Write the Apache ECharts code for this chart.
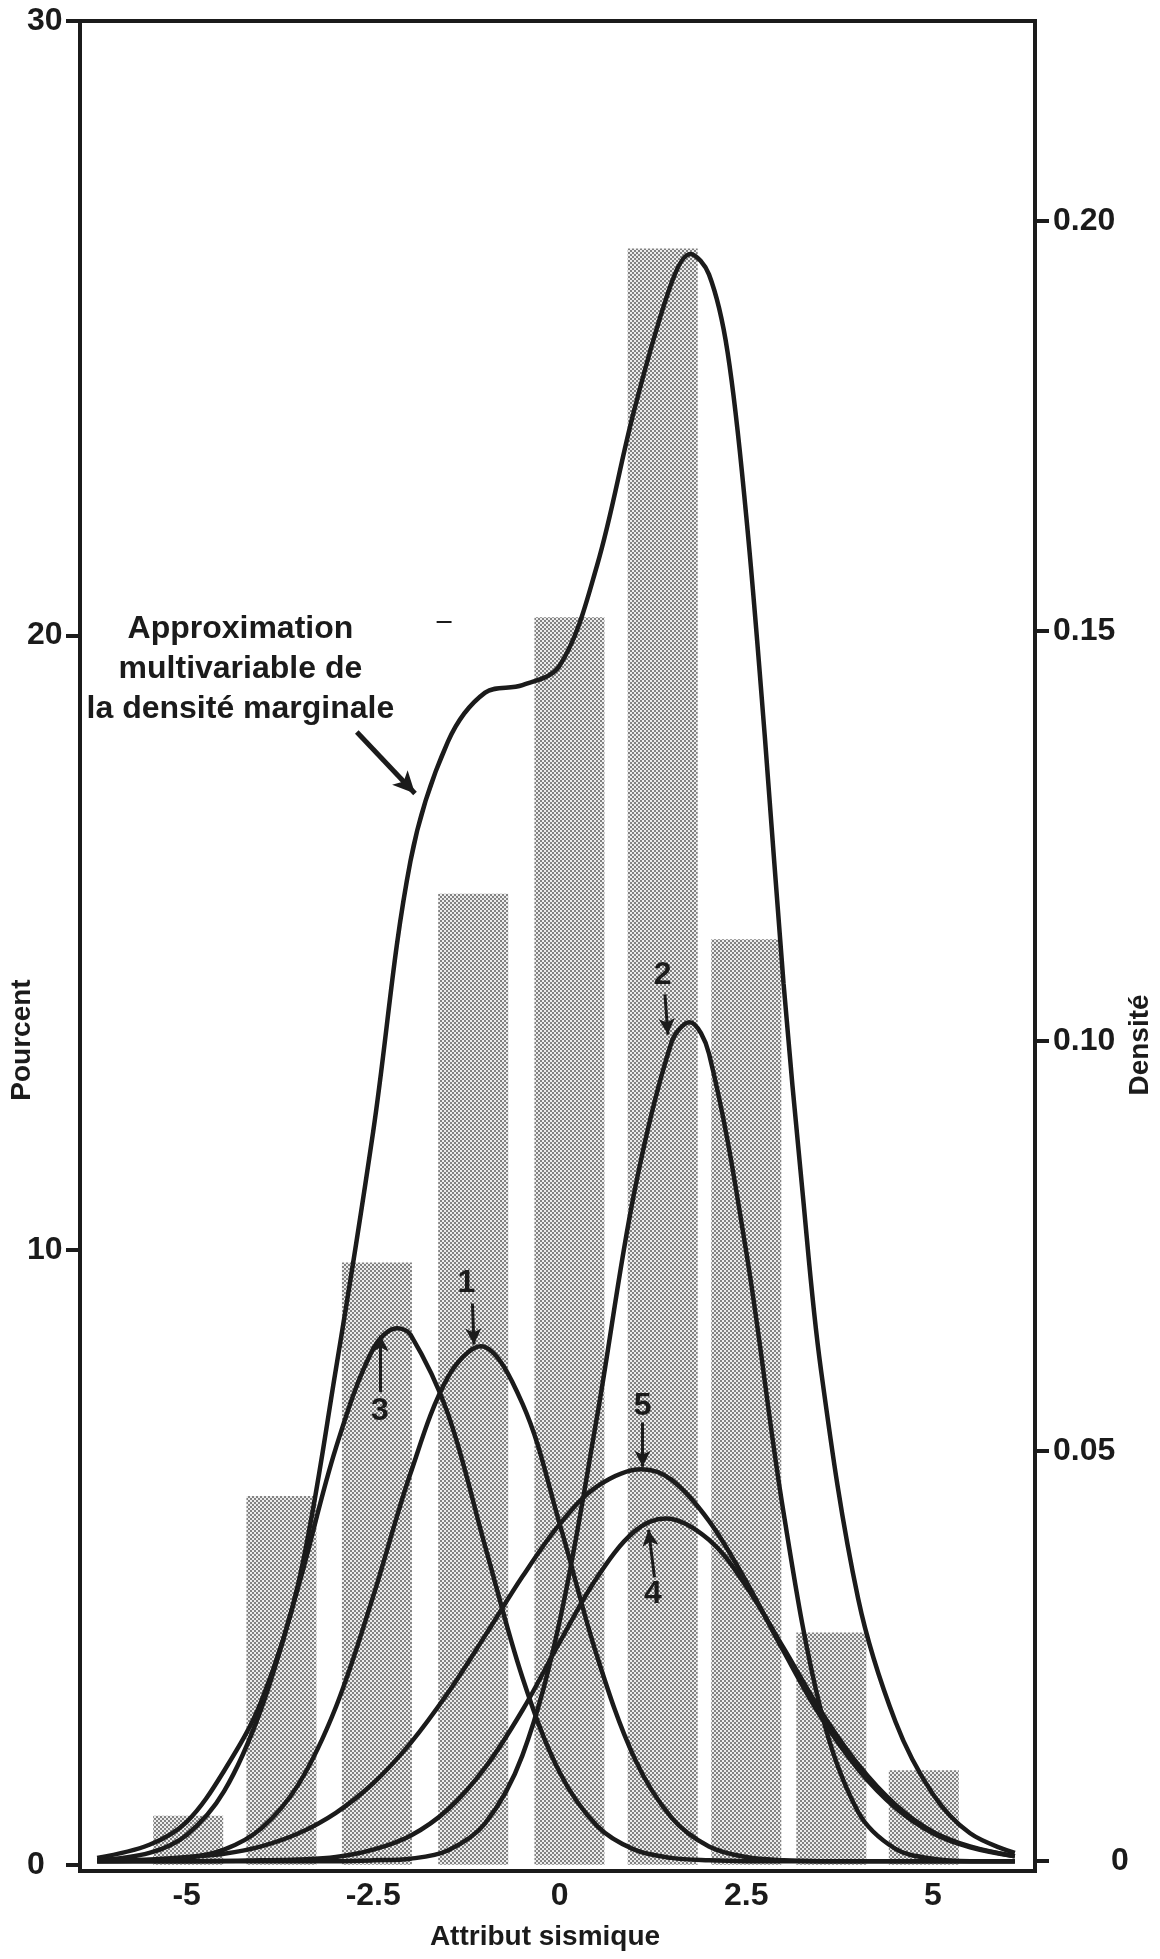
<!DOCTYPE html>
<html>
<head>
<meta charset="utf-8">
<script src="https://cdn.jsdelivr.net/npm/echarts@6/dist/echarts.min.js"></script>
</head>
<body style="margin:0;background:#fff">
<div id="container" style="width:1160px;height:1959px"></div>
<script type="text/javascript">
// histogram (left axis, percent)
var barX = [-4.98, -3.73, -2.45, -1.16, 0.13, 1.38, 2.50, 3.64, 4.88];
var barPct = [0.8, 6.0, 9.8, 15.8, 20.3, 26.3, 15.06, 3.78, 1.54];

// density curves (right axis), [x, density]
var curveTotal = [[-6.2,0.0004],[-5.5,0.0020],[-5,0.0048],[-4.5,0.0110],[-4,0.0195],[-3.5,0.0340],[-3,0.0600],[-2.5,0.0890],[-2,0.1220],[-1.5,0.1365],[-1,0.1425],[-0.5,0.1434],[0,0.1458],[0.5,0.1580],[1,0.1770],[1.5,0.1925],[1.75,0.1960],[2,0.1935],[2.25,0.1840],[2.5,0.1640],[2.75,0.1370],[3,0.1070],[3.25,0.0820],[3.5,0.0600],[4,0.0320],[4.5,0.0170],[5,0.0082],[5.5,0.0034],[6.1,0.0010]];
var curve1 = [[-6.2,0],[-5.5,0.0001],[-5,0.0004],[-4.5,0.0014],[-4,0.0040],[-3.5,0.0094],[-3,0.0188],[-2.5,0.0323],[-2,0.0473],[-1.5,0.0590],[-1.06,0.0628],[-0.5,0.0558],[0,0.0411],[0.5,0.0250],[1,0.0126],[1.5,0.0053],[2,0.0018],[2.5,0.0005],[3,0.0001],[3.5,0],[4.5,0],[5.5,0],[6.1,0]];
var curve2 = [[-6.2,0],[-5,0],[-4,0],[-3,0],[-2.5,0.0001],[-2,0.0003],[-1.5,0.0013],[-1,0.0046],[-0.5,0.0129],[0,0.0293],[0.5,0.0542],[1,0.0816],[1.5,0.0999],[1.74,0.1023],[2,0.0985],[2.5,0.0743],[3,0.0425],[3.5,0.0184],[4,0.0060],[4.5,0.0015],[5,0.0003],[5.5,0],[6.1,0]];
var curve3 = [[-6.2,0.0001],[-5.5,0.0010],[-5,0.0032],[-4.5,0.0085],[-4,0.0186],[-3.5,0.0336],[-3,0.0504],[-2.5,0.0625],[-2.18,0.0650],[-2,0.0642],[-1.5,0.0546],[-1,0.0384],[-0.5,0.0224],[0,0.0108],[0.5,0.0043],[1,0.0014],[1.5,0.0004],[2,0.0001],[2.5,0],[3,0],[4,0],[5,0],[6.1,0]];
var curve4 = [[-6.2,0],[-5,0],[-4,0.0001],[-3.5,0.0002],[-3,0.0005],[-2.5,0.0014],[-2,0.0031],[-1.5,0.0063],[-1,0.0114],[-0.5,0.0184],[0,0.0267],[0.5,0.0346],[1,0.0402],[1.42,0.0418],[2,0.0392],[2.5,0.0335],[3,0.0260],[3.5,0.0183],[4,0.0118],[4.5,0.0069],[5,0.0036],[5.5,0.0018],[6.1,0.0006]];
var curve5 = [[-6.2,0.0001],[-5.5,0.0002],[-5,0.0005],[-4.5,0.0009],[-4,0.0018],[-3.5,0.0034],[-3,0.0059],[-2.5,0.0095],[-2,0.0144],[-1.5,0.0205],[-1,0.0275],[-0.5,0.0347],[0,0.0411],[0.5,0.0457],[1.1,0.0478],[1.5,0.0465],[2,0.0415],[2.5,0.0341],[3,0.0256],[3.5,0.0176],[4,0.0112],[4.5,0.0065],[5,0.0034],[5.5,0.0017],[6.1,0.0006]];

// ticks
var xTicks = [-5, -2.5, 0, 2.5, 5];
var pctTicks = [0, 10, 20, 30];
var densTicks = [0, 0.05, 0.10, 0.15, 0.20];

// annotations (density coords)
var noteText = 'Approximation\nmultivariable de\nla densité marginale';
var notePos = [-4.28, 0.1454];
var noteArrow = [[-2.72, 0.1377], [-1.94, 0.1302]];
var numLabels = [['1', -1.25, 0.0705], ['2', 1.38, 0.1080], ['3', -2.41, 0.0549], ['4', 1.25, 0.0326], ['5', 1.11, 0.0555]];
var numArrows = [
    [[-1.17, 0.0680], [-1.15, 0.0630]],
    [[1.41, 0.1057], [1.45, 0.1008]],
    [[-2.40, 0.0572], [-2.40, 0.0641]],
    [[1.27, 0.0346], [1.19, 0.0404]],
    [[1.11, 0.0535], [1.11, 0.0481]]
];
var strayDash = [[-1.65, 0.1511], [-1.45, 0.1511]];

var ink = '#1b1b1b';
var font = 'Liberation Sans, Arial, Helvetica, sans-serif';

function dotPattern() {
    var c = document.createElement('canvas');
    c.width = 4; c.height = 4;
    var g = c.getContext('2d');
    g.fillStyle = '#ececec';
    g.fillRect(0, 0, 4, 4);
    g.fillStyle = '#828282';
    g.fillRect(0, 0, 2, 2);
    g.fillRect(2, 2, 2, 2);
    return c;
}

function txt(size) {
    return {fontSize: size, fontWeight: 'bold', fontFamily: font, color: ink, opacity: 1,
        textBorderWidth: 0, textBorderColor: 'transparent'};
}

function curve(name, data) {
    return {
        name: name, type: 'line', yAxisIndex: 1, data: data,
        smooth: 0.35, symbol: 'none', z: 3,
        lineStyle: {color: ink, width: 4.5}
    };
}

function title(text, x, y, rot) {
    return {
        type: 'text', x: x, y: y, rotation: rot, silent: true,
        style: {text: text, fill: ink, font: 'bold 28px ' + font,
            textAlign: 'center', textVerticalAlign: 'middle'}
    };
}

var arrowLines = [];
arrowLines.push([
    {coord: noteArrow[0], lineStyle: {width: 5}},
    {coord: noteArrow[1], symbolSize: [16, 22]}
]);
numArrows.forEach(function (a) {
    arrowLines.push([{coord: a[0]}, {coord: a[1], symbolSize: [12, 16]}]);
});
arrowLines.push([
    {coord: strayDash[0], lineStyle: {width: 2}},
    {coord: strayDash[1], symbol: 'none'}
]);

var labelData = numLabels.map(function (n) {
    return {name: n[0], value: [n[1], n[2]], label: txt(32)};
});
labelData.push({
    name: noteText, value: notePos,
    label: Object.assign(txt(32), {lineHeight: 40, align: 'center'})
});

var dom = document.getElementById('container');
var myChart = echarts.init(dom, null, {renderer: 'canvas'});

var option = {
    animation: false,
    backgroundColor: '#fff',
    grid: {left: 80, right: 125, top: 21, bottom: 88, containLabel: false, outerBoundsMode: 'none',
        show: true, borderColor: ink, borderWidth: 4},
    graphic: [
        title('Pourcent', 22, 1040, Math.PI / 2),
        title('Densité', 1140, 1045, Math.PI / 2),
        title('Attribut sismique', 545, 1937, 0)
    ],
    xAxis: {
        type: 'value', min: -6.43, max: 6.37,
        axisLine: {show: true, onZero: false, lineStyle: {color: ink, width: 4}},
        axisTick: {show: false},
        splitLine: {show: false},
        axisLabel: Object.assign(txt(32), {customValues: xTicks, margin: 9, formatter: function (v) { return String(v); }})
    },
    yAxis: [{
        type: 'value', min: -0.1, max: 30, position: 'left',
        axisLine: {show: true, onZero: false, lineStyle: {color: ink, width: 4}},
        axisTick: {show: true, customValues: pctTicks, length: 14, lineStyle: {color: ink, width: 4}},
        splitLine: {show: false},
        axisLabel: Object.assign(txt(32), {customValues: pctTicks, align: 'left', margin: 53})
    }, {
        type: 'value', min: -0.0012, max: 0.2244, position: 'right',
        axisLine: {show: true, onZero: false, lineStyle: {color: ink, width: 4}},
        axisTick: {show: true, customValues: densTicks, length: 14, lineStyle: {color: ink, width: 4}},
        splitLine: {show: false},
        axisLabel: Object.assign(txt(32), {
            customValues: densTicks, margin: 18,
            formatter: function (v) { return v === 0 ? '{z|0}' : v.toFixed(2); },
            rich: {z: Object.assign(txt(32), {padding: [0, 0, 0, 58]})}
        })
    }],
    series: [{
        name: 'Pourcent', type: 'bar', yAxisIndex: 0, z: 1,
        barWidth: 70,
        data: barX.map(function (x, i) { return [x, barPct[i]]; }),
        itemStyle: {color: {image: dotPattern(), repeat: 'repeat'}}
    },
        curve('total', curveTotal),
        curve('1', curve1),
        curve('2', curve2),
        curve('3', curve3),
        curve('4', curve4),
        curve('5', curve5),
        {
            name: 'labels', type: 'scatter', yAxisIndex: 1, z: 5,
            symbolSize: 0, silent: true,
            itemStyle: {opacity: 1, color: ink},
            label: {show: true, position: 'inside', formatter: '{b}', color: ink, opacity: 1},
            data: labelData,
            markLine: {
                silent: true, symbol: ['none', 'arrow'], symbolSize: [12, 16],
                label: {show: false},
                lineStyle: {color: ink, width: 3, type: 'solid', opacity: 1},
                emphasis: {disabled: true},
                data: arrowLines
            }
        }]
};

myChart.setOption(option);
</script>
</body>
</html>
